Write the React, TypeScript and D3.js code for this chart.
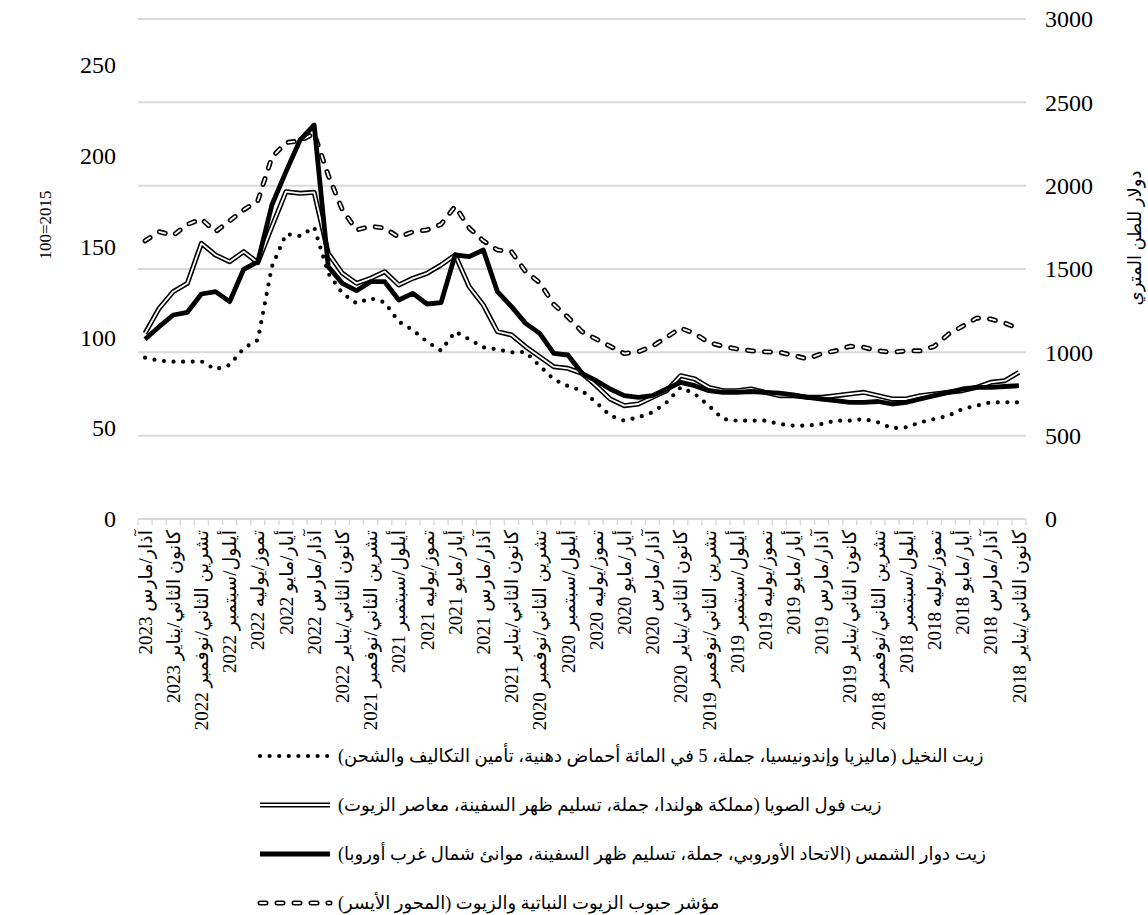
import * as d3 from 'd3';

// Months, newest first: the chart runs from March 2023 (left) back to January 2018 (right).
const MONTHS = [
  'كانون الثاني/يناير', 'شباط/فبراير', 'آذار/مارس', 'نيسان/أبريل', 'أيار/مايو', 'حزيران/يونيه',
  'تموز/يوليه', 'آب/أغسطس', 'أيلول/سبتمبر', 'تشرين الأول/أكتوبر', 'تشرين الثاني/نوفمبر', 'كانون الأول/ديسمبر',
];
const FIRST = { year: 2023, month: 3 };
const COUNT = 63;

const CATEGORIES: string[] = d3.range(COUNT).map((i) => {
  const m = FIRST.year * 12 + (FIRST.month - 1) - i;
  return `${MONTHS[m % 12]} ${Math.floor(m / 12)}`;
});

// Series, in chart order (Mar 2023 ... Jan 2018)
const PALM = [
  968, 950, 944, 944, 946, 898, 924, 1024, 1074, 1514, 1710, 1698, 1750, 1474, 1354, 1294,
  1324, 1300, 1184, 1134, 1064, 1010, 1124, 1078, 1030, 1018, 1000, 1002, 918, 838, 798, 770,
  700, 620, 590, 610, 640, 700, 790, 750, 680, 600, 590, 590, 590, 570, 560, 560,
  570, 590, 590, 600, 580, 545, 550, 580, 600, 620, 660, 680, 700, 700, 700,
];
const SOY = [
  1114, 1264, 1364, 1414, 1654, 1584, 1544, 1604, 1538, 1754, 1964, 1954, 1960, 1594, 1474, 1414,
  1444, 1484, 1404, 1444, 1474, 1524, 1584, 1394, 1284, 1124, 1104, 1034, 974, 914, 904, 874,
  800, 720, 680, 690, 730, 770, 860, 840, 790, 770, 770, 780, 760, 740, 740, 730,
  730, 740, 750, 760, 740, 720, 720, 740, 750, 760, 770, 790, 820, 830, 880,
];
const SUNFLOWER = [
  1078, 1154, 1224, 1240, 1350, 1364, 1304, 1498, 1544, 1884, 2084, 2274, 2364, 1514, 1414, 1370,
  1424, 1424, 1314, 1354, 1290, 1298, 1584, 1574, 1614, 1364, 1274, 1174, 1114, 994, 984, 874,
  830, 780, 740, 730, 740, 780, 820, 800, 770, 760, 760, 765, 760, 755, 745, 730,
  720, 710, 700, 700, 705, 690, 700, 720, 740, 760, 780, 790, 790, 795, 800,
];
const INDEX = [
  153, 158, 156, 162, 165, 158, 164, 170, 175, 199, 207, 208, 212, 189, 170, 159,
  161, 160, 155, 158, 159, 162, 172, 160, 153, 148, 147, 136, 130, 118, 111, 103,
  99, 95, 91, 92, 95, 100, 105, 102, 97, 95, 93.5, 92.5, 92, 91.7, 90, 88,
  91, 92.5, 95, 94.4, 92.5, 91.7, 92.5, 92.5, 95, 101.7, 106, 110.5, 110, 107.8, 104.5,
];

const LEFT_TICKS = [0, 50, 100, 150, 200, 250];
const RIGHT_TICKS = [0, 500, 1000, 1500, 2000, 2500, 3000];

const LEGEND = [
  { key: 'palm', label: 'زيت النخيل (ماليزيا وإندونيسيا، جملة، 5 في المائة أحماض دهنية، تأمين التكاليف والشحن)' },
  { key: 'soy', label: 'زيت فول الصويا (مملكة هولندا، جملة، تسليم ظهر السفينة، معاصر الزيوت)' },
  { key: 'sun', label: 'زيت دوار الشمس (الاتحاد الأوروبي، جملة، تسليم ظهر السفينة، موانئ شمال غرب أوروبا)' },
  { key: 'index', label: 'مؤشر حبوب الزيوت النباتية والزيوت (المحور الأيسر)' },
];

const W = 1148;
const H = 915;
const PLOT = { left: 138, right: 1026, top: 19, bottom: 519 };
const FONT = "'Liberation Serif', 'Times New Roman', 'DejaVu Sans', serif";
const GRID = '#d9d9d9';

const x = d3.scaleBand<string>().domain(CATEGORIES).range([PLOT.left, PLOT.right]);
const xc = (i: number) => (x(CATEGORIES[i]) ?? 0) + x.bandwidth() / 2;
const yL = d3.scaleLinear().domain([0, 275]).range([PLOT.bottom, PLOT.top]);
const yR = d3.scaleLinear().domain([0, 3000]).range([PLOT.bottom, PLOT.top]);

const lineR = d3.line<number>().x((_, i) => xc(i)).y((d) => yR(d));
const lineL = d3.line<number>().x((_, i) => xc(i)).y((d) => yL(d));

// line styles, shared by the plot and the legend samples
function Styled({ kind, d }: { kind: string; d: string }) {
  if (kind === 'palm')
    return <path d={d} fill="none" stroke="#000" strokeWidth={4.2} strokeLinecap="round" strokeDasharray="0 9.6" />;
  if (kind === 'soy')
    return (
      <g fill="none" strokeLinejoin="round">
        <path d={d} stroke="#000" strokeWidth={5} />
        <path d={d} stroke="#fff" strokeWidth={1.8} />
      </g>
    );
  if (kind === 'sun')
    return <path d={d} fill="none" stroke="#000" strokeWidth={4.8} strokeLinejoin="round" />;
  return (
    <g fill="none" strokeLinecap="round" strokeLinejoin="round">
      <path d={d} stroke="#000" strokeWidth={5} strokeDasharray="6 11" />
      <path d={d} stroke="#fff" strokeWidth={1.8} strokeDasharray="6 11" />
    </g>
  );
}

export default function App() {
  const edges = d3.range(COUNT + 1).map((i) => PLOT.left + i * x.step());
  const legendY0 = 756;
  const legendStep = 49;

  return (
    <div style={{ position: 'absolute', left: 0, top: 0 }}>
      <svg width={W} height={H} style={{ display: 'block', background: '#fff' }} fontFamily={FONT}>
        {/* gridlines on the right-axis ticks */}
        {RIGHT_TICKS.filter((t) => t > 0).map((t) => (
          <line key={t} x1={PLOT.left} x2={PLOT.right} y1={yR(t)} y2={yR(t)} stroke={GRID} strokeWidth={2} />
        ))}

        {/* category axis */}
        <line x1={PLOT.left} x2={PLOT.right} y1={PLOT.bottom} y2={PLOT.bottom} stroke={GRID} strokeWidth={2} />
        {edges.map((ex, i) => (
          <line key={i} x1={ex} x2={ex} y1={PLOT.bottom} y2={PLOT.bottom + 6} stroke={GRID} strokeWidth={1.5} />
        ))}
        {CATEGORIES.map((c, i) =>
          i % 2 === 0 ? (
            <text
              key={c}
              transform={`translate(${xc(i)},${PLOT.bottom + 11}) rotate(-90)`}
              direction="rtl"
              textAnchor="start"
              dy="0.35em"
              fontSize={19}
              fill="#000"
            >
              {c}
            </text>
          ) : null,
        )}

        {/* left axis */}
        {LEFT_TICKS.map((t) => (
          <text key={t} x={116} y={yL(t)} dy="0.35em" textAnchor="end" fontSize={24} fill="#000">
            {t}
          </text>
        ))}
        <text transform="translate(45,225) rotate(-90)" textAnchor="middle" dy="0.35em" fontSize={17} fill="#000">
          100=2015
        </text>

        {/* right axis */}
        {RIGHT_TICKS.map((t) => (
          <text key={t} x={1045} y={yR(t)} dy="0.35em" textAnchor="start" fontSize={24} fill="#000">
            {t}
          </text>
        ))}
        <text
          transform="translate(1135,238) rotate(-90)"
          direction="rtl"
          textAnchor="middle"
          dy="0.35em"
          fontSize={18}
          fill="#000"
        >
          دولار للطن المتري
        </text>

        {/* series */}
        <Styled kind="index" d={lineL(INDEX) ?? ''} />
        <Styled kind="palm" d={lineR(PALM) ?? ''} />
        <Styled kind="soy" d={lineR(SOY) ?? ''} />
        <Styled kind="sun" d={lineR(SUNFLOWER) ?? ''} />

        {/* legend */}
        {LEGEND.map((l, i) => {
          const ly = legendY0 + i * legendStep;
          return (
            <g key={l.key}>
              <Styled kind={l.key} d={`M260,${ly}L330,${ly}`} />
              <text x={338} y={ly} dy="0.35em" direction="rtl" textAnchor="end" fontSize={18} fill="#000">
                {l.label}
              </text>
            </g>
          );
        })}
      </svg>
    </div>
  );
}
